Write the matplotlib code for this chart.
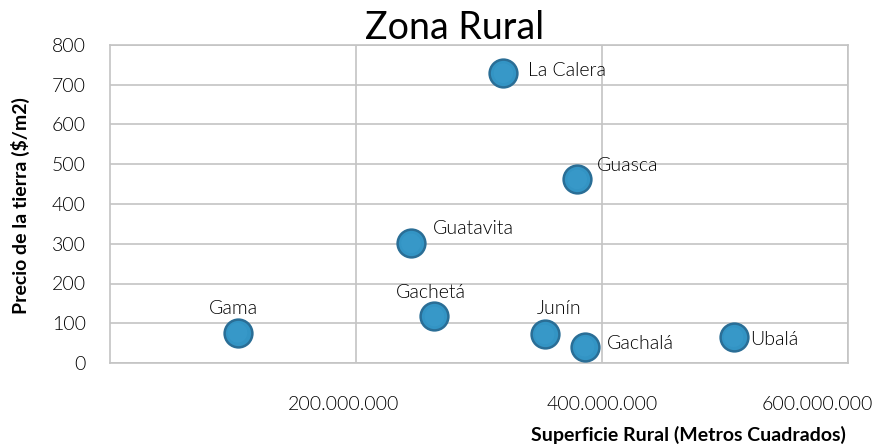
import matplotlib
matplotlib.use("Agg")
import matplotlib.pyplot as plt
import matplotlib.transforms as mtransforms

plt.rcParams['font.family'] = ['Lato', 'DejaVu Sans']
plt.rcParams['font.weight'] = 300

municipios = ["Gama", "Guatavita", "Gachetá", "La Calera", "Junín", "Guasca", "Gachalá", "Ubalá"]
superficie = [104e6, 245e6, 264e6, 320e6, 353.5e6, 380e6, 386e6, 507e6]
precio = [76, 301, 117, 729, 72, 462, 41, 65]

x_ticks = [200e6, 400e6, 600e6]
x_tick_labels = ["200.000.000", "400.000.000", "600.000.000"]
y_ticks = [0, 100, 200, 300, 400, 500, 600, 700, 800]

# label placement (pixel offsets, alignment)
label_pos = {
    "Gama": ((-4, 24), "center"),
    "Guatavita": ((22, 15), "left"),
    "Gachetá": ((-4, 24), "center"),
    "La Calera": ((25, 3), "left"),
    "Junín": ((15, 26), "center"),
    "Guasca": ((20, 14), "left"),
    "Gachalá": ((22, 3), "left"),
    "Ubalá": ((17, -2), "left"),
}

fig = plt.figure(figsize=(8.76, 4.48), dpi=100)
ax = fig.add_axes([109.5/876, 1-363/448, (848-109.5)/876, (363-45)/448])

grid_c = "#C4C4C4"
ax.set_xlim(0, 600e6)
ax.set_ylim(0, 800)
ax.set_xticks(x_ticks)
ax.set_xticklabels(x_tick_labels)
ax.set_yticks(y_ticks)
ax.grid(True, color=grid_c, linewidth=1.2)
ax.set_axisbelow(True)
for s in ax.spines.values():
    s.set_color(grid_c)
    s.set_linewidth(1.2)
ax.tick_params(length=0, labelsize=14, colors="#000000")
ax.tick_params(axis='x', pad=24)
ax.tick_params(axis='y', pad=17)

# shift x tick labels like the reference
shifts = [-12, 0, -31]
for lbl, dx in zip(ax.get_xticklabels(), shifts):
    lbl.set_transform(lbl.get_transform() + mtransforms.ScaledTranslation(dx/100, 0, fig.dpi_scale_trans))

# markers: darker rim + fill + soft highlight
ax.scatter(superficie, precio, s=400, facecolor="#3394C4", edgecolor="#2A6E96", linewidth=1.8, zorder=3)
ax.scatter(superficie, precio, s=200, facecolor="#3A9BCB", edgecolor="none", zorder=4, alpha=0.6)

for name, xv, yv in zip(municipios, superficie, precio):
    (dx, dy), ha = label_pos[name]
    ax.annotate(name, (xv, yv), xytext=(dx, dy), textcoords="offset pixels",
                ha=ha, va="center", fontsize=14, color="#000000", zorder=5)

fig.text(455/876, 1-28/448, "Zona Rural", ha="center", va="center", fontsize=27,
         fontweight="normal", color="#000000")
fig.text(20/876, 1-206/448, "Precio de la tierra ($/m2)", rotation=90, ha="center", va="center",
         fontsize=14, fontweight="bold")
fig.text(688/876, 1-435/448, "Superficie Rural (Metros Cuadrados)", ha="center", va="center",
         fontsize=14, fontweight="bold")

fig.savefig("out.png", dpi=100)
